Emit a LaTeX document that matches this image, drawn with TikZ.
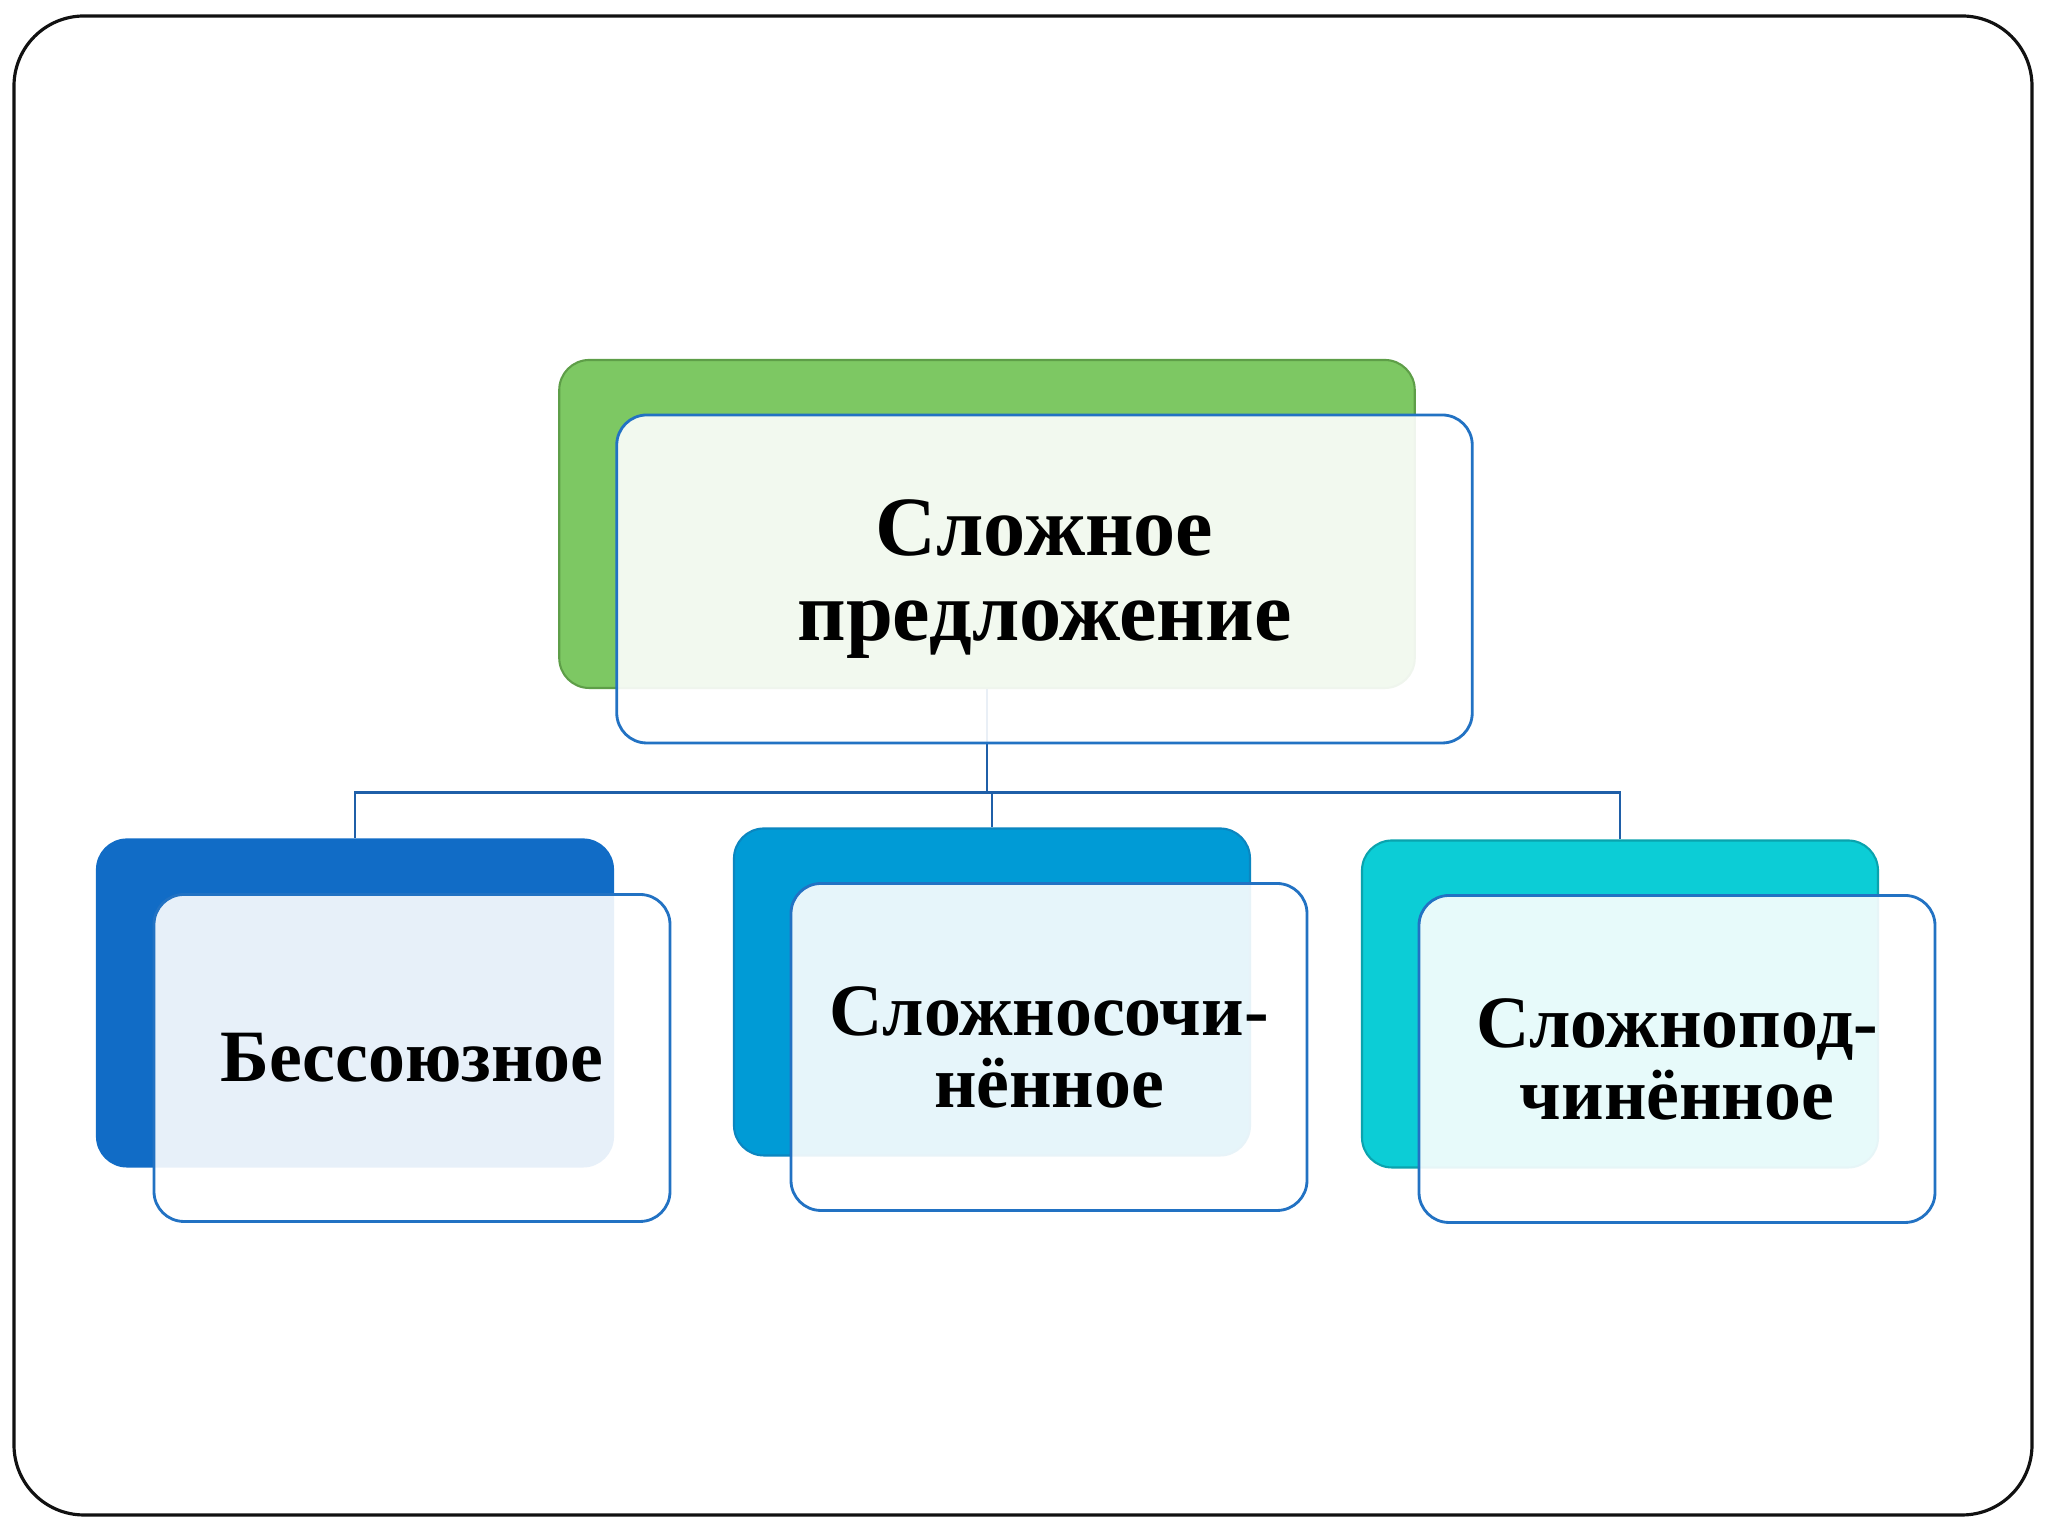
\documentclass[tikz,border=0pt]{standalone}
\usepackage{fontspec}
\setmainfont{Liberation Serif}
\usepackage{tikz}
\usetikzlibrary{positioning,calc}
\definecolor{FrameBlack}{HTML}{111111}
\definecolor{LinkBlue}{HTML}{1F5FA8}
\definecolor{EdgeBlue}{HTML}{2272C3}
\definecolor{TopGreen}{HTML}{7DC863}
\definecolor{TopGreenDark}{HTML}{5E9E48}
\definecolor{DeepBlue}{HTML}{116CC6}
\definecolor{MidBlue}{HTML}{009BD6}
\definecolor{MidBlueDark}{HTML}{0B86C0}
\definecolor{Turq}{HTML}{0CCDD6}
\definecolor{TurqDark}{HTML}{0AA3AE}

\begin{document}
\begin{tikzpicture}[
				backbox/.style={rounded corners=0.3cm, line width=0.6pt,
					minimum width=5.16cm, minimum height=3.27cm},
				frontbox/.style={draw=EdgeBlue, fill=white, fill opacity=0.9, text opacity=1,
					rounded corners=0.3cm, line width=0.8pt,
					minimum width=5.16cm, minimum height=3.27cm,
					align=center, font=\bfseries\fontsize{21}{20.5}\selectfont},
				link/.style={LinkBlue, line width=0.7pt}
				]
				\useasboundingbox (0,0) rectangle (20.48,15.36);
				\draw[FrameBlack, line width=0.9pt, rounded corners=0.7cm] (0.14,0.21) rectangle (20.32,15.20);
				% цветные подложки
				\node[backbox, draw=TopGreenDark, fill=TopGreen, minimum width=8.555cm, minimum height=3.28cm] (sp-back) at (9.87,10.12) {};
				\node[backbox, draw=DeepBlue, fill=DeepBlue] (bs-back) at (3.55,5.33) {};
				\node[backbox, draw=MidBlueDark, fill=MidBlue] (ss-back) at (9.92,5.44) {};
				\node[backbox, draw=TurqDark, fill=Turq] (spd-back) at (16.20,5.32) {};
				% линии связи
				\coordinate (bar) at ($(sp-back.south)+(0,-1.035)$);
				\draw[link] (sp-back.south) -- (bar);
				\draw[link] (bar) -| (bs-back.north);
				\draw[link] (bar) -| (ss-back.north);
				\draw[link] (bar) -| (spd-back.north);
				% светлые карточки с текстом
				\node[frontbox, minimum width=8.555cm, minimum height=3.28cm,
					font=\bfseries\fontsize{24}{24}\selectfont] (sp) at ([shift={(0.575,-0.55)}]sp-back) {Сложное\\предложение};
				\node[frontbox] (bs) at ([shift={(0.57,-0.55)}]bs-back) {Бессоюзное};
				\node[frontbox] (ss) at ([shift={(0.57,-0.55)}]ss-back) {Сложносочи-\\нённое};
				\node[frontbox] (spd) at ([shift={(0.57,-0.55)}]spd-back) {Сложнопод-\\чинённое};
			\end{tikzpicture}
\end{document}
